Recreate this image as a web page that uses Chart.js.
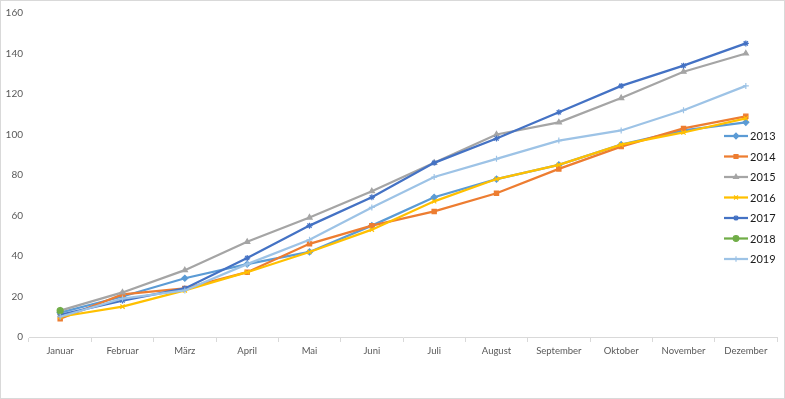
<!DOCTYPE html>
<html>
<head>
<meta charset="utf-8">
<script src="https://cdn.jsdelivr.net/npm/chart.js@4.4.1/dist/chart.umd.min.js"></script>
<style>
  html, body { margin: 0; padding: 0; background: #fff; }
  #wrap { width: 785px; height: 399px; box-sizing: border-box; border: 1px solid #d9d9d9; }
  canvas { display: block; }
</style>
</head>
<body>
<div id="wrap"><canvas id="chart" width="783" height="397"></canvas></div>
<script>
// Daten
const monate = ['Januar','Februar','März','April','Mai','Juni','Juli','August','September','Oktober','November','Dezember'];
const jahre = ['2013','2014','2015','2016','2017','2018','2019'];
const werte2013 = [12, 20, 29, 36, 42, 55, 69, 78, 85, 95, 102, 106];
const werte2014 = [9, 21, 24, 32, 46, 55, 62, 71, 83, 94, 103, 109];
const werte2015 = [13, 22, 33, 47, 59, 72, 86, 100, 106, 118, 131, 140];
const werte2016 = [10, 15, 23, 32, 42, 53, 67, 78, 85, 95, 101, 108];
const werte2017 = [11, 18, 24, 39, 55, 69, 86, 98, 111, 124, 134, 145];
const werte2018 = [13, null, null, null, null, null, null, null, null, null, null, null];
const werte2019 = [10, 19, 23, 36, 48, 64, 79, 88, 97, 102, 112, 124];
const yTicks = [0, 20, 40, 60, 80, 100, 120, 140, 160];

const farben = ['#5B9BD5', '#ED7D31', '#A5A5A5', '#FFC000', '#4472C4', '#70AD47', '#9DC3E6'];
const symbole = ['rectRot', 'rect', 'triangle', 'crossRot', 'star', 'circle', 'cross'];
const alleWerte = [werte2013, werte2014, werte2015, werte2016, werte2017, werte2018, werte2019];

const datasets = jahre.map((j, i) => ({
    label: j,
    data: alleWerte[i],
    borderColor: farben[i],
    backgroundColor: farben[i],
    borderWidth: 2.25,
    pointStyle: symbole[i],
    pointRadius: 3,
    pointBorderWidth: 1.2,
    pointBackgroundColor: farben[i],
    pointBorderColor: farben[i],
    tension: 0,
    spanGaps: false,
    order: jahre.length - i
}));

// Legende rechts, im Diagrammbereich
const legendePlugin = {
    id: 'legendeRechts',
    afterDraw(chart) {
        const ctx = chart.ctx;
        const x0 = 723, y0 = 135, dy = 20.5;
        ctx.save();
        chart.data.datasets.forEach((ds, i) => {
            const y = y0 + i * dy;
            ctx.strokeStyle = ds.borderColor;
            ctx.lineWidth = 2.25;
            ctx.beginPath();
            ctx.moveTo(x0, y);
            ctx.lineTo(x0 + 24, y);
            ctx.stroke();
            ctx.fillStyle = ds.borderColor;
            ctx.lineWidth = 1.2;
            if (Chart.helpers && Chart.helpers.drawPoint) {
                Chart.helpers.drawPoint(ctx, { pointStyle: ds.pointStyle, radius: 2.8, rotation: 0, borderWidth: 1.2 }, x0 + 12, y);
            }
            ctx.fillStyle = '#1a1a1a';
            ctx.font = '11px Lato, "Liberation Sans", sans-serif';
            ctx.textAlign = 'left';
            ctx.textBaseline = 'middle';
            ctx.fillText(ds.label, x0 + 26, y + 0.5);
        });
        ctx.restore();
    }
};

const ctx = document.getElementById('chart').getContext('2d');
new Chart(ctx, {
    type: 'line',
    data: { labels: monate, datasets: datasets },
    options: {
        responsive: false,
        animation: false,
        layout: { padding: { top: 5, right: 7, bottom: 0, left: 0 } },
        plugins: { legend: { display: false }, tooltip: { enabled: false } },
        scales: {
            x: {
                offset: true,
                grid: { display: true, drawOnChartArea: false, drawTicks: true, tickLength: 5, color: '#d9d9d9', offset: true },
                border: { display: true, color: '#d9d9d9', width: 1 },
                ticks: { color: '#595959', font: { family: 'Lato, "Liberation Sans", sans-serif', size: 9.5 }, padding: 3, maxRotation: 0, autoSkip: false },
                afterFit: s => { s.height = 61; }
            },
            y: {
                min: yTicks[0],
                max: yTicks[yTicks.length - 1],
                grid: { display: false, drawTicks: false },
                border: { display: false },
                afterBuildTicks: s => { s.ticks = yTicks.map(v => ({ value: v })); },
                ticks: { color: '#595959', font: { family: 'Lato, "Liberation Sans", sans-serif', size: 10 }, padding: 6 },
                afterFit: s => { s.width = 28; }
            }
        }
    },
    plugins: [legendePlugin]
});
</script>
</body>
</html>
